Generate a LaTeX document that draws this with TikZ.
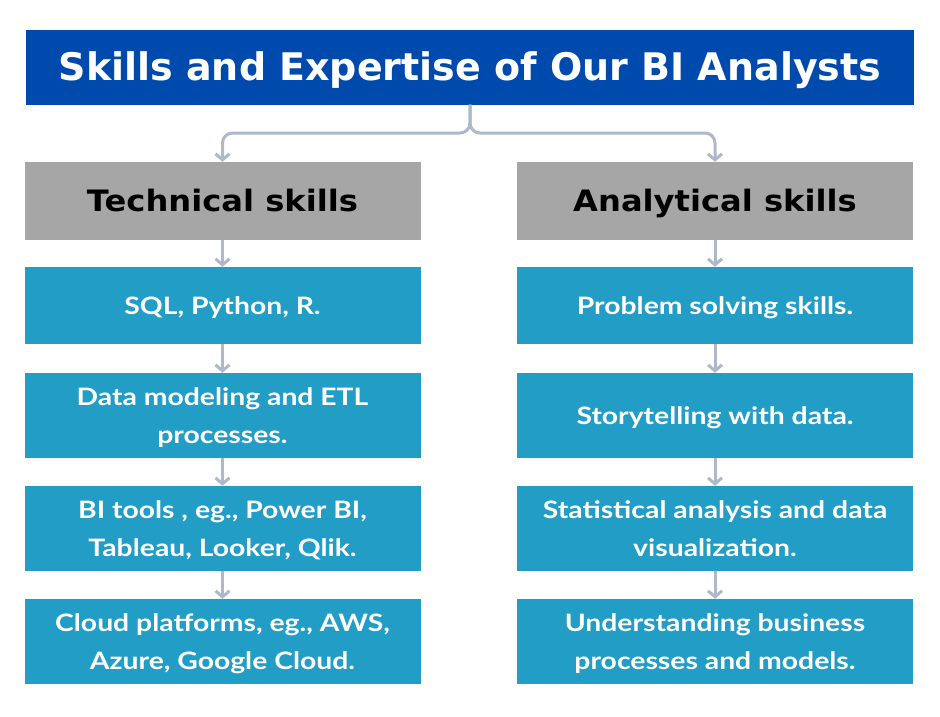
\documentclass[tikz,border=0pt]{standalone}
\usepackage{fontspec}
\setmainfont{Lato}[FakeStretch=1.18]
\newfontfamily\titlefont{DejaVu Sans Bold}
\usetikzlibrary{arrows.meta}
\definecolor{titleblue}{HTML}{004AAD}
\definecolor{headgray}{HTML}{A6A6A6}
\definecolor{boxblue}{HTML}{229DC6}
\definecolor{conn}{HTML}{ADB9CA}
\newcommand{\hdrtext}[1]{\scalebox{1.09}[1]{#1}}
\tikzset{
  titlebox/.style={fill=titleblue, minimum width=888pt, minimum height=75pt, inner sep=0pt,
    text=white, text height=27.5pt, text depth=0pt, font=\titlefont\fontsize{38}{40}\selectfont},
  headbox/.style={fill=headgray, minimum width=396pt, minimum height=78pt, inner sep=0pt,
    text=black, text height=21.5pt, text depth=0pt, font=\titlefont\fontsize{29.5}{32}\selectfont},
  skillbox/.style={fill=boxblue, minimum width=396pt, inner sep=0pt,
    text=white, align=center, font=\bfseries\fontsize{24}{37.2}\selectfont},
  oneline/.style={text height=17.3pt, text depth=0pt},
  flow/.style={draw=conn, line width=3pt, -{Straight Barb[length=6pt,width=14pt,line width=3pt]}},
}
\begin{document}
\begin{tikzpicture}[x=1pt,y=-1pt]
\useasboundingbox (0,0) rectangle (940,716);
\node[titlebox] (title) at (470,67) {Skills and Expertise of Our BI Analysts};
\node[headbox] (tech) at (222.5,201) {\hdrtext{Technical skills}};
\node[headbox] (anal) at (715,201) {\hdrtext{Analytical skills}};
\node[skillbox, oneline, minimum height=77pt] (l1) at (222.5,305.5) {SQL, Python, R.};
\node[skillbox, minimum height=85pt, text depth=0pt] (l2) at (222.5,415.5) {Data modeling and ETL\\processes.};
\node[skillbox, minimum height=85pt, text depth=0pt] (l3) at (222.5,528.5) {BI tools , eg., Power BI,\\Tableau, Looker, Qlik.};
\node[skillbox, minimum height=85pt, text depth=0pt] (l4) at (222.5,641.5) {Cloud platforms, eg., AWS,\\Azure, Google Cloud.};
\node[skillbox, oneline, minimum height=77pt] (r1) at (715,305.5) {Problem solving skills.};
\node[skillbox, oneline, minimum height=85pt] (r2) at (715,415.5) {Storytelling with data.};
\node[skillbox, minimum height=85pt, text depth=0pt] (r3) at (715,528.5) {Statistical analysis and data\\visualization.};
\node[skillbox, minimum height=85pt, text depth=0pt] (r4) at (715,641.5) {Understanding business\\processes and models.};
\coordinate (hub) at (470,133);
\draw[flow, rounded corners=10pt] (title.south) |- (hub) -| (tech.north);
\draw[flow, rounded corners=10pt] (title.south) |- (hub) -| (anal.north);
\foreach \a/\b in {tech/l1,l1/l2,l2/l3,l3/l4,anal/r1,r1/r2,r2/r3,r3/r4}
  \draw[flow] (\a.south) -- (\b.north);
\end{tikzpicture}
\end{document}
